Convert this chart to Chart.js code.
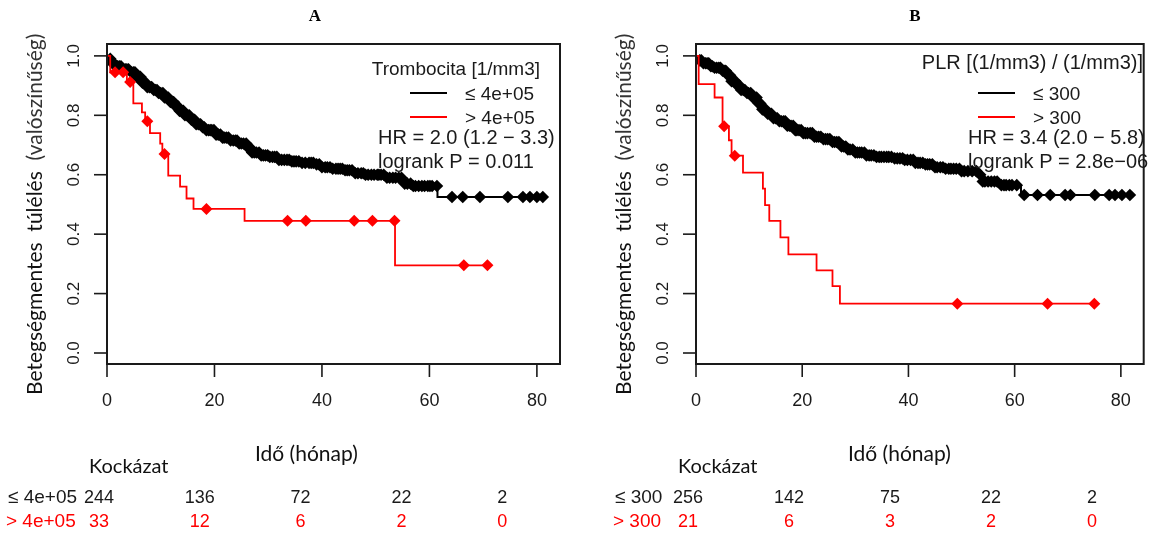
<!DOCTYPE html>
<html>
<head>
<meta charset="utf-8">
<script src="https://cdn.jsdelivr.net/npm/chart.js@4.4.1/dist/chart.umd.min.js"></script>
<style>
  html, body { margin: 0; padding: 0; background: #fff; width: 1150px; height: 535px; overflow: hidden; }
  .panel { position: absolute; top: 0; width: 575px; height: 535px; }
  #panelA { left: 0; }
  #panelB { left: 575px; }
</style>
</head>
<body>
<div class="panel" id="panelA"><canvas id="chartA" width="575" height="535"></canvas></div>
<div class="panel" id="panelB"><canvas id="chartB" width="575" height="535"></canvas></div>
<script>
// tengelyek
const xTicks = [0, 20, 40, 60, 80];
const yTicks = [0, 0.2, 0.4, 0.6, 0.8, 1.0];
const riskTimes = [0, 20, 40, 60, 80];

// A panel: Trombocita <= 4e+05 (fekete)
const timeA_lo = [0, 0.5, 1.0, 1.5, 3, 4.5, 5.5, 6.5, 7.5, 8.5, 9.5, 10.5, 11.5, 12.5, 13.5, 14.5, 15.5, 16.5, 17.5, 18.5,
                  20, 21.5, 23, 24.5, 26, 27, 28.5, 30, 32, 34, 36, 38.5, 40, 42, 44, 46, 48, 52, 55, 57, 61.5];
const survA_lo = [1, 0.99, 0.975, 0.965, 0.955, 0.945, 0.93, 0.91, 0.895, 0.885, 0.875, 0.86, 0.845, 0.83, 0.815, 0.8, 0.785, 0.77, 0.76, 0.75,
                  0.735, 0.725, 0.715, 0.705, 0.69, 0.675, 0.665, 0.66, 0.65, 0.645, 0.64, 0.635, 0.625, 0.62, 0.615, 0.605, 0.6, 0.59, 0.57, 0.562, 0.525];
const censA_lo = [0.6, 1.0, 1.3, 1.7, 2.0, 2.3, 2.6, 3.0, 3.4, 3.7, 4.0, 4.5, 4.9, 5.2, 5.5, 5.9, 6.2, 6.6, 6.9, 7.2, 7.5, 7.9,
                  8.3, 8.7, 9.0, 9.3, 9.6, 10.0, 10.4, 10.7, 11.0, 11.4, 11.8, 12.1, 12.4, 12.8, 13.2, 13.5, 13.9, 14.2, 14.5,
                  14.9, 15.3, 15.7, 16.0, 16.3, 16.6, 17.0, 17.4, 17.8, 18.1, 18.5, 18.9, 19.2, 19.5, 19.9, 20.3, 20.7, 21.1,
                  21.5, 21.8, 22.2, 22.6, 23.0, 23.5, 23.9, 24.2, 24.6, 25.0, 25.4, 25.9, 26.3, 26.7, 27.0, 27.4, 27.8, 28.3,
                  28.7, 29.1, 29.5, 29.9, 30.3, 30.8, 31.2, 31.6, 32.0, 32.5, 33.0, 33.5, 33.9, 34.4, 34.8, 35.2, 35.7, 36.3,
                  36.9, 37.6, 38.0, 38.4, 39.0, 39.5, 40.0, 40.6, 41.0, 41.5, 42.0, 42.6, 43.0, 43.4, 43.8, 44.3, 44.7, 45.1,
                  45.6, 46.2, 46.7, 47.3, 47.7, 48.1, 48.6, 49.2, 49.7, 50.3, 50.6, 51.0, 51.5, 52.1, 52.6, 53.2, 53.7, 54.3,
                  54.8, 55.4, 55.9, 56.5, 57.0, 57.4, 58.0, 58.6, 59.1, 59.7, 60.1, 60.5, 61.4, 64.2, 66.2, 69.4, 74.6, 77.4,
                  78.7, 80.0, 81.1];
// A panel: Trombocita > 4e+05 (piros)
const timeA_hi = [0, 0.6, 3.7, 4.9, 6.5, 7.1, 8.0, 9.9, 10.3, 11.4, 13.6, 14.8, 16.1, 25.6, 53.6];
const survA_hi = [1, 0.945, 0.912, 0.84, 0.81, 0.78, 0.74, 0.705, 0.67, 0.597, 0.56, 0.52, 0.485, 0.445, 0.295];
const censA_hi = [1.5, 3.0, 4.3, 7.5, 10.7, 18.5, 33.6, 37.0, 46.0, 49.4, 53.5, 66.4, 70.8];

// B panel: PLR <= 300 (fekete)
const timeB_lo = [0, 0.5, 1.3, 2.5, 3.5, 4.8, 5.8, 6.5, 7.5, 8.5, 9.5, 10.5, 11.5, 12.5, 13.5, 14.5, 15.7, 17, 18.5, 20,
                  22, 24, 25.5, 27, 28.5, 30, 32, 34, 37, 39, 41, 43, 45, 47, 50, 53, 53.8, 57.5, 61.2];
const survB_lo = [1, 0.985, 0.975, 0.965, 0.96, 0.95, 0.935, 0.915, 0.9, 0.885, 0.875, 0.86, 0.84, 0.82, 0.805, 0.79, 0.78, 0.765, 0.75, 0.74,
                  0.728, 0.72, 0.71, 0.695, 0.685, 0.675, 0.665, 0.66, 0.655, 0.65, 0.64, 0.635, 0.625, 0.62, 0.612, 0.6, 0.577, 0.565, 0.532];
const censB_lo = [0.7, 1.0, 1.4, 1.8, 2.1, 2.4, 2.8, 3.1, 3.5, 3.9, 4.3, 4.6, 5.0, 5.3, 5.6, 6.0, 6.4, 6.7, 7.1, 7.4, 7.8,
                  8.2, 8.5, 8.9, 9.2, 9.6, 9.9, 10.3, 10.7, 11.0, 11.4, 11.8, 12.1, 12.5, 12.8, 13.1, 13.5, 13.9, 14.2, 14.6,
                  15.0, 15.3, 15.7, 16.1, 16.5, 16.8, 17.2, 17.6, 17.9, 18.3, 18.7, 19.0, 19.4, 19.8, 20.2, 20.6, 21.0, 21.5,
                  21.9, 22.3, 22.7, 23.1, 23.5, 24.0, 24.4, 24.8, 25.2, 25.7, 26.1, 26.5, 26.9, 27.4, 27.8, 28.2, 28.6, 29.0,
                  29.5, 30.0, 30.4, 30.8, 31.2, 31.7, 32.1, 32.6, 33.0, 33.5, 34.0, 34.5, 34.9, 35.4, 35.9, 36.3, 36.8, 37.4,
                  37.9, 38.4, 38.9, 39.3, 39.8, 40.4, 40.9, 41.3, 41.8, 42.2, 42.7, 43.2, 43.6, 44.0, 44.5, 45.0, 45.4, 46.0,
                  46.5, 47.0, 47.6, 48.0, 48.5, 49.0, 49.6, 50.0, 50.5, 51.2, 52.0, 52.8, 53.5, 54.0, 54.4, 55.0, 55.6, 56.2,
                  56.7, 57.5, 58.0, 58.4, 59.0, 59.5, 60.4, 61.8, 64.3, 66.7, 69.5, 70.5, 75.1, 77.8, 78.9, 80.2, 81.7];
// B panel: PLR > 300 (piros)
const timeB_hi = [0, 0.5, 3.5, 5.0, 6.2, 6.7, 8.85, 12.6, 13.0, 13.8, 15.9, 17.4, 22.7, 25.7, 27.1];
const survB_hi = [1, 0.905, 0.86, 0.763, 0.716, 0.664, 0.607, 0.553, 0.498, 0.445, 0.389, 0.332, 0.278, 0.225, 0.166];
const censB_hi = [5.3, 7.3, 49.2, 66.2, 75.0];

// kockázati táblázat
const riskA_lo = [244, 136, 72, 22, 2];
const riskA_hi = [33, 12, 6, 2, 0];
const riskB_lo = [256, 142, 75, 22, 2];
const riskB_hi = [21, 6, 3, 2, 0];

const RED = '#ff0000';
const INK = '#1a1a1a';
const SANS = '"Liberation Sans", Arial, sans-serif';
const HUMAN = 'Lato, "Open Sans", sans-serif';

function stepAt(times, surv, t) {
    let s = surv[0];
    for (let i = 0; i < times.length; i++) {
        if (times[i] <= t) s = surv[i];
    }
    return s;
}

function stepLine(times, surv, cens) {
    const pts = times.map((t, i) => ({ x: t, y: surv[i] }));
    const tEnd = Math.max(...cens, times[times.length - 1]);
    pts.push({ x: tEnd, y: surv[surv.length - 1] });
    return pts;
}

function censPoints(times, surv, cens) {
    return cens.map(t => ({ x: t, y: stepAt(times, surv, t) }));
}

const kmDecor = {
    id: 'kmDecor',
    afterDatasetsDraw(chart, args, o) {
        const ctx = chart.ctx;
        const a = chart.chartArea;
        const xs = chart.scales.x, ys = chart.scales.y;
        ctx.save();

        // keret
        ctx.strokeStyle = INK;
        ctx.lineWidth = 2;
        ctx.strokeRect(a.left, a.top, a.right - a.left, a.bottom - a.top);

        // x tengely
        ctx.lineWidth = 1.6;
        ctx.fillStyle = INK;
        ctx.font = '18px ' + SANS;
        ctx.textAlign = 'center';
        ctx.textBaseline = 'middle';
        xTicks.forEach(v => {
            const px = xs.getPixelForValue(v);
            ctx.beginPath();
            ctx.moveTo(px, a.bottom);
            ctx.lineTo(px, a.bottom + 13);
            ctx.stroke();
            ctx.fillText(String(v), px, a.bottom + 37);
        });

        // y tengely
        ctx.font = '17px ' + SANS;
        yTicks.forEach(v => {
            const py = ys.getPixelForValue(v);
            ctx.beginPath();
            ctx.moveTo(a.left - 13, py);
            ctx.lineTo(a.left, py);
            ctx.stroke();
            ctx.save();
            ctx.translate(a.left - 33, py);
            ctx.rotate(-Math.PI / 2);
            ctx.fillText(v.toFixed(1), 0, 0);
            ctx.restore();
        });

        // y cím
        ctx.save();
        ctx.translate(a.left - 72, 395);
        ctx.rotate(-Math.PI / 2);
        ctx.textAlign = 'left';
        ctx.font = '21px ' + HUMAN;
        ctx.fillStyle = '#111';
        const part1 = 'Betegségmentes  túlélés  ';
        ctx.fillText(part1, 0, 0);
        const w1 = ctx.measureText(part1).width;
        ctx.fillStyle = '#333';
        ctx.fillText('(valószínűség)', w1, 0);
        ctx.restore();

        // panel cím
        ctx.font = 'bold 17px "Liberation Serif", "Times New Roman", serif';
        ctx.fillStyle = '#000';
        ctx.textAlign = 'center';
        ctx.fillText(o.title, o.titleX, 17);

        // jelmagyarázat
        ctx.font = o.legTitleSize + 'px ' + SANS;
        ctx.fillStyle = INK;
        ctx.textAlign = 'right';
        ctx.fillText(o.legTitle, o.legTitleRight, o.legTitleY);
        ctx.textAlign = 'left';
        ctx.lineWidth = 2;
        ctx.strokeStyle = '#000';
        ctx.beginPath(); ctx.moveTo(o.legLine[0], 93); ctx.lineTo(o.legLine[1], 93); ctx.stroke();
        ctx.strokeStyle = RED;
        ctx.beginPath(); ctx.moveTo(o.legLine[0], 117); ctx.lineTo(o.legLine[1], 117); ctx.stroke();
        ctx.font = '19px ' + SANS;
        ctx.fillText(o.loLabel, o.legTextX, 95);
        ctx.fillText(o.hiLabel, o.legTextX, 119);
        ctx.font = '20px ' + SANS;
        ctx.fillText(o.hr, o.hrX, 138);
        ctx.fillText(o.pval, o.hrX, 162);

        // x cím és kockázati tábla
        ctx.font = '21px ' + HUMAN;
        ctx.fillStyle = '#111';
        ctx.fillText('Idő (hónap)', o.xTitleX, 454);
        ctx.font = '20px ' + HUMAN;
        ctx.fillText('Kockázat', o.kockX, 467);

        ctx.font = '19px ' + SANS;
        ctx.fillStyle = INK;
        ctx.fillText(o.loLabel, o.rowLabelX, 498);
        ctx.fillStyle = RED;
        ctx.fillText(o.hiLabel, o.rowLabelX - 2, 522);
        ctx.font = '18px ' + SANS;
        ctx.textAlign = 'center';
        riskTimes.forEach((t, i) => {
            const px = o.riskX0 + t * o.riskScale;
            ctx.fillStyle = INK;
            ctx.fillText(String(o.riskLo[i]), px, 498);
            ctx.fillStyle = RED;
            ctx.fillText(String(o.riskHi[i]), px, 522);
        });
        ctx.restore();
    }
};

function makeKM(canvasId, pad, loT, loS, loC, hiT, hiS, hiC, decor) {
    return new Chart(document.getElementById(canvasId), {
        type: 'scatter',
        data: {
            datasets: [
                { type: 'line', data: stepLine(hiT, hiS, hiC), stepped: 'before', borderColor: RED, borderWidth: 1.8, pointRadius: 0, fill: false },
                { data: censPoints(hiT, hiS, hiC), pointStyle: 'rectRot', pointRadius: 6, backgroundColor: RED, borderColor: RED, borderWidth: 0 },
                { type: 'line', data: stepLine(loT, loS, loC), stepped: 'before', borderColor: '#000', borderWidth: 2, pointRadius: 0, fill: false },
                { data: censPoints(loT, loS, loC), pointStyle: 'rectRot', pointRadius: 6.3, backgroundColor: '#000', borderColor: '#000', borderWidth: 0 }
            ]
        },
        options: {
            responsive: false,
            animation: false,
            layout: { padding: pad },
            plugins: { legend: { display: false }, tooltip: { enabled: false }, kmDecor: decor },
            scales: {
                x: { type: 'linear', min: 0, max: 84.3, display: false },
                y: { type: 'linear', min: -0.037, max: 1.04, display: false }
            }
        },
        plugins: [kmDecor]
    });
}

makeKM('chartA', { left: 107, right: 15, top: 44, bottom: 171 },
    timeA_lo, survA_lo, censA_lo, timeA_hi, survA_hi, censA_hi,
    {
        title: 'A', titleX: 315,
        legTitle: 'Trombocita [1/mm3]', legTitleSize: 19, legTitleRight: 540, legTitleY: 70,
        legLine: [410, 447], legTextX: 465,
        loLabel: '≤ 4e+05', hiLabel: '> 4e+05',
        hrX: 378, hr: 'HR = 2.0 (1.2 − 3.3)', pval: 'logrank P = 0.011',
        xTitleX: 255, kockX: 89, rowLabelX: 8,
        riskX0: 99, riskScale: 5.04, riskLo: riskA_lo, riskHi: riskA_hi
    });

makeKM('chartB', { left: 121, right: 2, top: 44, bottom: 171 },
    timeB_lo, survB_lo, censB_lo, timeB_hi, survB_hi, censB_hi,
    {
        title: 'B', titleX: 340,
        legTitle: 'PLR [(1/mm3) / (1/mm3)]', legTitleSize: 20, legTitleRight: 568, legTitleY: 63,
        legLine: [403, 440], legTextX: 458,
        loLabel: '≤ 300', hiLabel: '> 300',
        hrX: 393, hr: 'HR = 3.4 (2.0 − 5.8)', pval: 'logrank P = 2.8e−06',
        xTitleX: 273, kockX: 103, rowLabelX: 40,
        riskX0: 113, riskScale: 5.05, riskLo: riskB_lo, riskHi: riskB_hi
    });
</script>
</body>
</html>
